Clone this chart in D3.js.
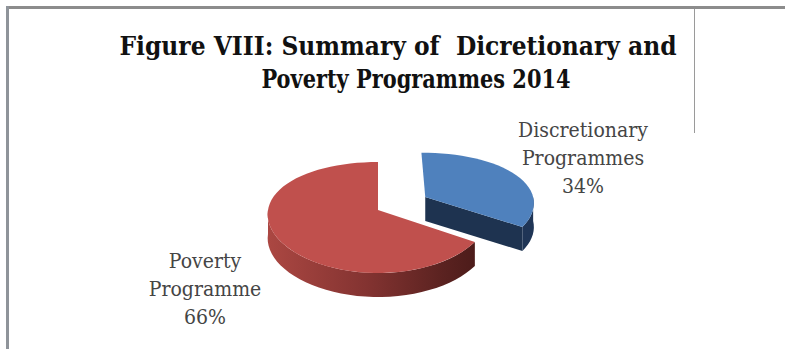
<!DOCTYPE html>
<html>
<head>
<meta charset="utf-8">
<script src="https://cdn.jsdelivr.net/npm/d3@7"></script>
<style>
  html, body { margin: 0; padding: 0; background: #ffffff; }
  svg { display: block; }
  .serif { font-family: "DejaVu Serif Condensed", "DejaVu Serif"; font-stretch: condensed; }
</style>
</head>
<body>
<svg id="chart" width="785" height="349"></svg>
<script>
// ---- data ----
const categories = ["Discretionary Programmes", "Poverty Programme"];
const shares = [34, 66];
const labelLines = [["Discretionary", "Programmes", "34%"], ["Poverty", "Programme", "66%"]];
const titleLines = ["Figure VIII: Summary of  Dicretionary and", "Poverty Programmes 2014"];
const exploded = [true, false];

// ---- layout ----
const W = 785, H = 349;
const cx = 378, cy = 210;    // centre of the pie's top face
const rx = 110, ry = 55.5;   // ellipse radii of the tilted disc
const kx = 0.08, ky = 0.135; // mild perspective: the near side is drawn larger
const depth = 24;            // thickness of the disc
const explodeDist = 0.5;     // pull-out of the exploded slice, in radius units

const svg = d3.select("#chart");

// frame lines
svg.append("line").attr("x1", 6).attr("x2", W).attr("y1", 7.5).attr("y2", 7.5)
  .attr("stroke", "#8c8c8c").attr("stroke-width", 3);
svg.append("line").attr("x1", 7.5).attr("x2", 7.5).attr("y1", 6).attr("y2", H)
  .attr("stroke", "#8f949a").attr("stroke-width", 3);
svg.append("line").attr("x1", 694.5).attr("x2", 694.5).attr("y1", 9).attr("y2", 133)
  .attr("stroke", "#9a9a9a").attr("stroke-width", 1);

// title, two centred lines
const titleX = [398, 416];
const titleY = [55, 88];
const titleWidth = [557, 309];
svg.selectAll("text.title").data(titleLines).join("text")
  .attr("class", "title serif")
  .attr("x", (d, i) => titleX[i])
  .attr("y", (d, i) => titleY[i])
  .attr("text-anchor", "middle")
  .attr("textLength", (d, i) => titleWidth[i])
  .attr("lengthAdjust", "spacingAndGlyphs")
  .style("white-space", "pre")
  .style("font-weight", "bold")
  .style("font-size", "26px")
  .attr("fill", "#111111")
  .text(d => d);

// projection of a point on the unit disc (u right, v toward viewer) at height z
function proj(u, v, z) {
  return [cx + rx * u * (1 + kx * v), cy + ry * v * (1 + ky * v) + z];
}

const pie = d3.pie().sort(null).startAngle(0).endAngle(2 * Math.PI);
const arcs = pie(shares);

const topColors = ["#4f81bd", "#c0504d"];
const sideColors = ["#1f3556", "url(#redSide)"];
const faceColors = ["#1e3350", "#5a2220"];

// gradient for the curved side of the red slice
const defs = svg.append("defs");
const grad = defs.append("linearGradient").attr("id", "redSide")
  .attr("gradientUnits", "userSpaceOnUse")
  .attr("x1", cx - rx).attr("x2", cx + rx).attr("y1", 0).attr("y2", 0);
[[0, "#ab4742"], [0.45, "#833331"], [0.8, "#5a2220"], [1, "#471917"]].forEach(([o, c]) =>
  grad.append("stop").attr("offset", o).attr("stop-color", c));

const line = d3.line();
const N = 90;

function arcPoints(ou, ov, a0, a1, z) {
  const pts = [];
  const n = Math.max(2, Math.ceil(N * (a1 - a0) / (2 * Math.PI)));
  for (let i = 0; i <= n; i++) {
    const t = a0 + (a1 - a0) * i / n;
    pts.push(proj(ou + Math.sin(t), ov - Math.cos(t), z));
  }
  return pts;
}

const g = svg.append("g");

arcs.forEach((a, i) => {
  const mid = (a.startAngle + a.endAngle) / 2;
  const e = exploded[i] ? explodeDist : 0;
  const ou = e * Math.sin(mid), ov = -e * Math.cos(mid);
  const gs = g.append("g").attr("class", "slice");

  // radial faces that turn toward the viewer
  [[a.startAngle, a.startAngle - Math.PI / 2], [a.endAngle, a.endAngle + Math.PI / 2]].forEach(([t, nrm]) => {
    if (Math.cos(nrm) < -0.01) {
      const rimU = ou + Math.sin(t), rimV = ov - Math.cos(t);
      const quad = [proj(ou, ov, 0), proj(rimU, rimV, 0), proj(rimU, rimV, depth), proj(ou, ov, depth)];
      gs.append("path").attr("d", line(quad) + "Z").attr("fill", faceColors[i]);
    }
  });

  // curved outer side over the front half of the disc
  const s0 = Math.max(a.startAngle, Math.PI / 2);
  const s1 = Math.min(a.endAngle, 3 * Math.PI / 2);
  if (s1 > s0) {
    const topPts = arcPoints(ou, ov, s0, s1, 0);
    const botPts = arcPoints(ou, ov, s0, s1, depth).reverse();
    gs.append("path").attr("d", line(topPts.concat(botPts)) + "Z").attr("fill", sideColors[i]);
  }

  // top face
  const topFace = [proj(ou, ov, 0)].concat(arcPoints(ou, ov, a.startAngle, a.endAngle, 0));
  gs.append("path").attr("d", line(topFace) + "Z").attr("fill", topColors[i]);
});

// slice labels
const labelX = [583, 205];
const labelY = [137, 268];
const lineGap = 28;
arcs.forEach((a, i) => {
  const t = svg.append("text")
    .attr("class", "serif")
    .attr("text-anchor", "middle")
    .style("font-size", "21px")
    .attr("fill", "#454545");
  labelLines[i].forEach((s, j) => {
    t.append("tspan").attr("x", labelX[i]).attr("y", labelY[i] + j * lineGap).text(s);
  });
});
</script>
</body>
</html>
